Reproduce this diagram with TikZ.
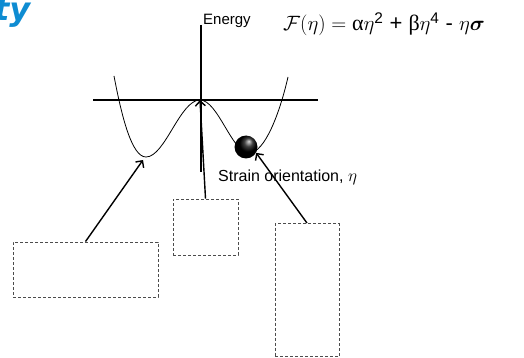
\documentclass[tikz,border=0pt]{standalone}
\usepackage{amsmath}
\usepackage{fontspec}
\setmainfont{Liberation Sans}
\newfontfamily\grkfont{Liberation Serif}
\newfontfamily\titlefont{DejaVu Sans}
\usetikzlibrary{arrows.meta}
\definecolor{titleblue}{RGB}{14,140,210}

\tikzset{
  axis/.style={line width=2.4pt},
  well/.style={line width=0.8pt},
  pointer/.style={line width=1.4pt, -{Straight Barb[length=5pt,width=10pt]}},
  blank/.style={draw=black!70, dash pattern=on 3pt off 2pt, line width=0.9pt, inner sep=0pt}
}

\begin{document}
\begin{tikzpicture}[x=1pt,y=-1pt]
    \useasboundingbox (0,0) rectangle (524,358);
    % cut-off title
    \node[anchor=base west, inner sep=0pt, text=titleblue, font=\titlefont\bfseries\itshape\fontsize{32}{34}\selectfont] (title) at (-6,21) {ty};
    % axes
    \coordinate (origin) at (200,100);
    \draw[axis] (201,25) -- (201,172);
    \draw[axis] (93,100) -- (318,100);
    \node[anchor=base west, inner sep=0pt, font=\fontsize{15}{17}\selectfont] (energy) at (203,25) {Energy};
    \node[anchor=base west, inner sep=0pt, font=\fontsize{16}{18}\selectfont] (strain) at (218,181) {Strain orientation, $\eta$};
    \node[anchor=base west, inner sep=0pt, font=\fontsize{22}{24}\selectfont] (free) at (283,31)
        {$\mathcal{F}(\eta) = \text{\grkfont α}\eta$\textsuperscript{2} + $\text{\grkfont β}\eta$\textsuperscript{4} - $\eta\boldsymbol{\sigma}$};
    % double well
    \draw[well] (114,76) .. controls (122,118) and (132,157) .. (146,157)
        .. controls (165,157) and (180,100) .. (origin)
        .. controls (218,100) and (232,153) .. (249,153)
        .. controls (265,153) and (280,112) .. (288,77);
    \coordinate (leftwell) at (143,160);
    \node[circle, shading=ball, ball color=black, shading angle=-70, minimum size=23pt, inner sep=0pt] (ball) at (246,147) {};
    % empty boxes
    \node[blank, minimum width=145pt, minimum height=55pt] (leftbox) at (85.5,269.5) {};
    \node[blank, minimum width=65pt, minimum height=56pt] (midbox) at (205.5,227) {};
    \node[blank, minimum width=64pt, minimum height=133pt] (rightbox) at (307,290) {};
    \draw[pointer] (leftbox.north) -- (leftwell);
    \draw[pointer] (midbox.north) -- (origin);
    \draw[pointer] (rightbox.north) -- (ball.-30);
\end{tikzpicture}
\end{document}
